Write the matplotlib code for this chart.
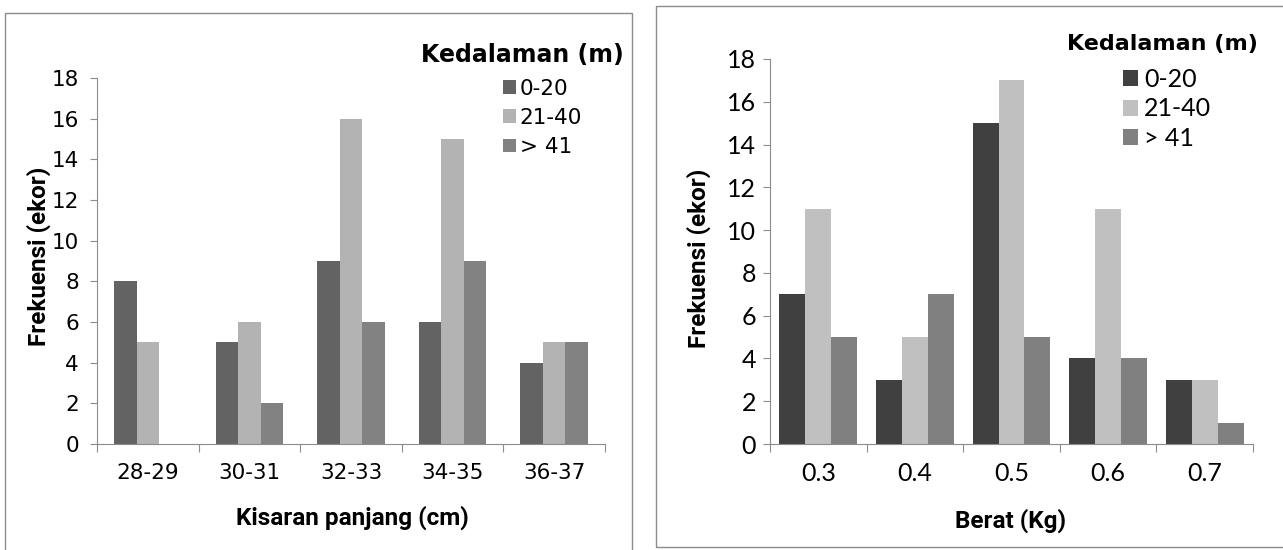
import numpy as np
import matplotlib.pyplot as plt
from matplotlib.patches import Patch, Rectangle

W, H = 1283, 550

# Panjang (kiri)
panjang_kelas = ["28-29", "30-31", "32-33", "34-35", "36-37"]
panjang_0_20 = [8, 5, 9, 6, 4]
panjang_21_40 = [5, 6, 16, 15, 5]
panjang_41 = [0, 2, 6, 9, 5]

# Berat (kanan)
berat_kelas = ["0.3", "0.4", "0.5", "0.6", "0.7"]
berat_0_20 = [7, 3, 15, 4, 3]
berat_21_40 = [11, 5, 17, 11, 3]
berat_41 = [5, 7, 5, 4, 1]

kedalaman = ["0-20", "21-40", "> 41"]
yticks = np.arange(0, 19, 2)

GOTHIC = ["DejaVu Sans"]
CALIBRI = ["Lato", "DejaVu Sans"]
BOLD = ["Roboto", "DejaVu Sans"]
AXIS_GREY = "#8c8c8c"


def fx(x):
    return x / W


def fy(y):
    return 1 - y / H


def style_axes(ax, labels, font, size, xpad, ypad):
    n = len(labels)
    ax.set_xlim(-0.5, n - 0.5)
    ax.set_ylim(0, 18)
    for s in ["top", "right"]:
        ax.spines[s].set_visible(False)
    for s in ["left", "bottom"]:
        ax.spines[s].set_color(AXIS_GREY)
        ax.spines[s].set_linewidth(0.8)
    ax.set_xticks(np.arange(n + 1) - 0.5)
    ax.set_xticklabels([])
    ax.set_xticks(np.arange(n), minor=True)
    ax.set_xticklabels(labels, minor=True, family=font, fontsize=size)
    ax.tick_params(axis="x", which="major", direction="out", length=6,
                   color=AXIS_GREY, width=0.8)
    ax.tick_params(axis="x", which="minor", length=0, pad=xpad)
    ax.set_yticks(yticks)
    ax.set_yticklabels([str(v) for v in yticks], family=font, fontsize=size)
    ax.tick_params(axis="y", direction="out", length=5, color=AXIS_GREY,
                   width=0.8, pad=ypad)


fig = plt.figure(figsize=(W / 100, H / 100), dpi=100)

# bingkai tiap panel
fig.patches.append(Rectangle((fx(5), fy(570)), fx(632) - fx(5), fy(13) - fy(570),
                             transform=fig.transFigure, fill=False,
                             edgecolor=AXIS_GREY, linewidth=1.0))
fig.patches.append(Rectangle((fx(656), fy(547)), fx(1295) - fx(656), fy(6) - fy(547),
                             transform=fig.transFigure, fill=False,
                             edgecolor=AXIS_GREY, linewidth=1.0))

# ---- panel kiri: kisaran panjang ----
ax1 = fig.add_axes([fx(97), fy(444), fx(605) - fx(97), fy(78) - fy(444)])
warna1 = ["#636363", "#b3b3b3", "#828282"]
w1 = 1 / 4.5
x = np.arange(len(panjang_kelas))
for i, vals in enumerate([panjang_0_20, panjang_21_40, panjang_41]):
    ax1.bar(x + (i - 1) * w1, vals, width=w1, color=warna1[i], label=kedalaman[i])
style_axes(ax1, panjang_kelas, GOTHIC, 15.5, 14, 8)

fig.text(fx(352), fy(518), "Kisaran panjang (cm)", family=BOLD, fontsize=17.5,
         fontweight="bold", ha="center", va="center")
fig.text(fx(39), fy(256), "Frekuensi (ekor)", family=BOLD, fontsize=17.5,
         fontweight="bold", ha="center", va="center", rotation=90)
fig.text(fx(624), fy(55), "Kedalaman (m)", family=GOTHIC, fontsize=17,
         fontweight="bold", ha="right", va="center")
h1 = [Patch(facecolor=c, edgecolor="none") for c in warna1]
ax1.legend(h1, kedalaman, loc="upper left", bbox_to_anchor=(fx(503), fy(79)),
           bbox_transform=fig.transFigure, frameon=False, borderpad=0,
           borderaxespad=0, handlelength=0.62, handleheight=0.62,
           handletextpad=0.15, labelspacing=0.42,
           prop={"family": GOTHIC, "size": 15.5})

# ---- panel kanan: berat ----
ax2 = fig.add_axes([fx(770), fy(444), fx(1253) - fx(770), fy(59) - fy(444)])
warna2 = ["#404040", "#c0c0c0", "#808080"]
w2 = 1 / 3.73
x = np.arange(len(berat_kelas))
for i, vals in enumerate([berat_0_20, berat_21_40, berat_41]):
    ax2.bar(x + (i - 1) * w2, vals, width=w2, color=warna2[i], label=kedalaman[i])
style_axes(ax2, berat_kelas, CALIBRI, 18, 13, 5)

fig.text(fx(1011), fy(521), "Berat (Kg)", family=BOLD, fontsize=17.5,
         fontweight="bold", ha="center", va="center")
fig.text(fx(699), fy(258), "Frekuensi (ekor)", family=BOLD, fontsize=17.5,
         fontweight="bold", ha="center", va="center", rotation=90)
fig.text(fx(1258), fy(44), "Kedalaman (m)", family=GOTHIC, fontsize=16,
         fontweight="bold", ha="right", va="center")
h2 = [Patch(facecolor=c, edgecolor="none") for c in warna2]
ax2.legend(h2, kedalaman, loc="upper left", bbox_to_anchor=(fx(1123), fy(68)),
           bbox_transform=fig.transFigure, frameon=False, borderpad=0,
           borderaxespad=0, handlelength=0.6, handleheight=0.6,
           handletextpad=0.25, labelspacing=0.26,
           prop={"family": CALIBRI, "size": 18})

fig.savefig("out.png", dpi=100)
